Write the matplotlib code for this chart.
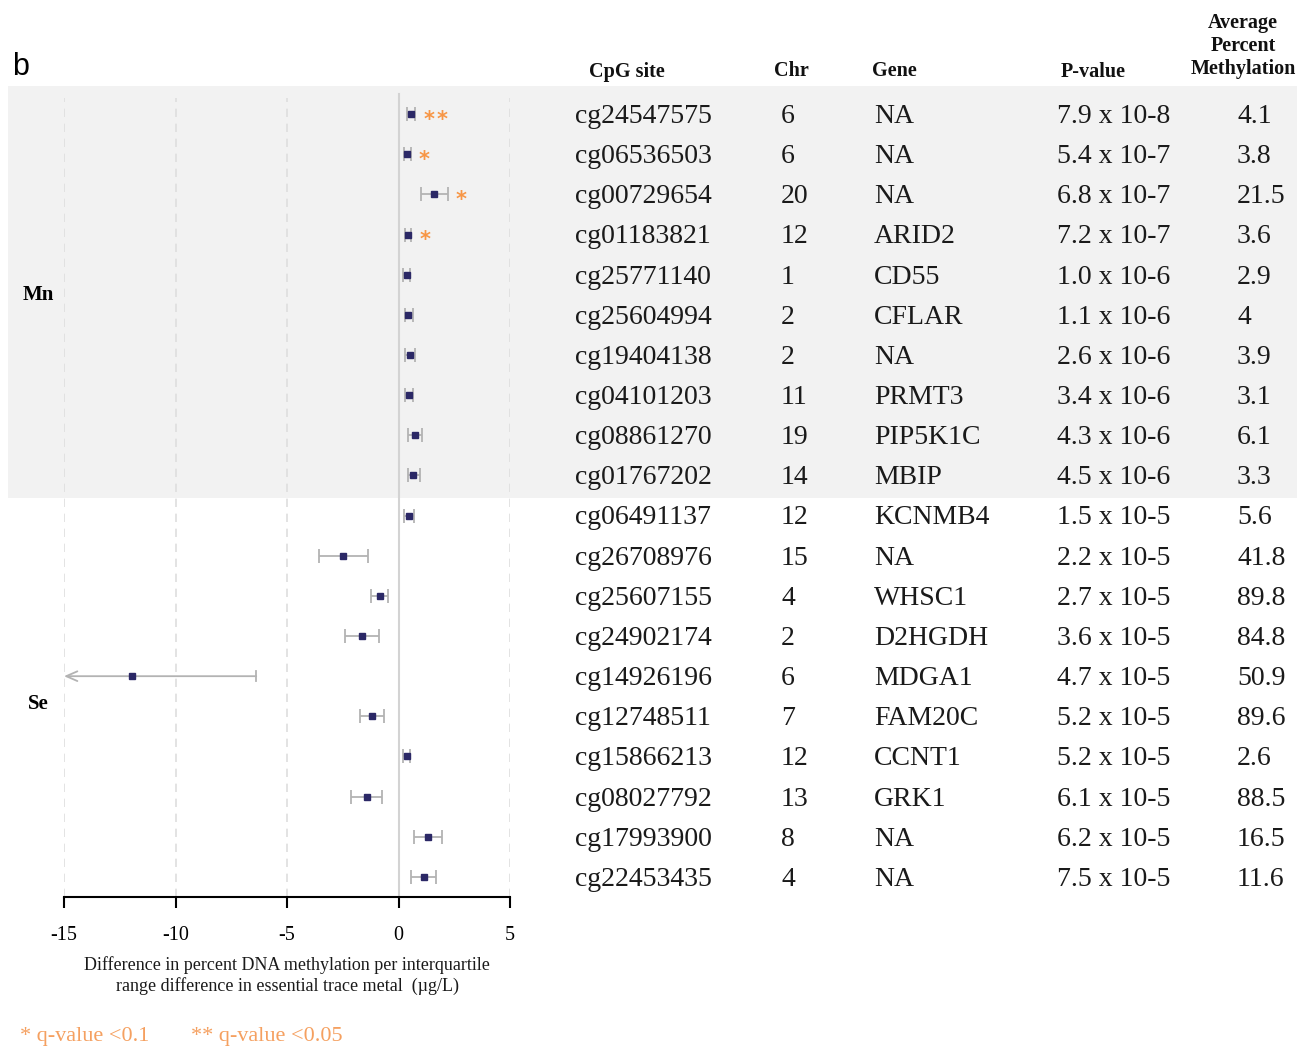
import numpy as np
import matplotlib
matplotlib.use("Agg")
import matplotlib.pyplot as plt
from matplotlib.transforms import blended_transform_factory
from matplotlib.patches import Rectangle

# ---- data ----
cpg = ["cg24547575", "cg06536503", "cg00729654", "cg01183821", "cg25771140",
       "cg25604994", "cg19404138", "cg04101203", "cg08861270", "cg01767202",
       "cg06491137", "cg26708976", "cg25607155", "cg24902174", "cg14926196",
       "cg12748511", "cg15866213", "cg08027792", "cg17993900", "cg22453435"]
chrom = ["6", "6", "20", "12", "1", "2", "2", "11", "19", "14",
         "12", "15", "4", "2", "6", "7", "12", "13", "8", "4"]
gene = ["NA", "NA", "NA", "ARID2", "CD55", "CFLAR", "NA", "PRMT3", "PIP5K1C", "MBIP",
        "KCNMB4", "NA", "WHSC1", "D2HGDH", "MDGA1", "FAM20C", "CCNT1", "GRK1", "NA", "NA"]
pval = ["7.9 x 10-8", "5.4 x 10-7", "6.8 x 10-7", "7.2 x 10-7", "1.0 x 10-6",
        "1.1 x 10-6", "2.6 x 10-6", "3.4 x 10-6", "4.3 x 10-6", "4.5 x 10-6",
        "1.5 x 10-5", "2.2 x 10-5", "2.7 x 10-5", "3.6 x 10-5", "4.7 x 10-5",
        "5.2 x 10-5", "5.2 x 10-5", "6.1 x 10-5", "6.2 x 10-5", "7.5 x 10-5"]
avg_meth = ["4.1", "3.8", "21.5", "3.6", "2.9", "4", "3.9", "3.1", "6.1", "3.3",
            "5.6", "41.8", "89.8", "84.8", "50.9", "89.6", "2.6", "88.5", "16.5", "11.6"]
metal = ["Mn"] * 10 + ["Se"] * 10

est = np.array([0.58, 0.39, 1.59, 0.42, 0.36, 0.43, 0.51, 0.45, 0.73, 0.67,
                0.46, -2.48, -0.85, -1.63, -11.94, -1.20, 0.36, -1.43, 1.31, 1.14])
ci_lo = np.array([0.39, 0.24, 0.99, 0.27, 0.22, 0.28, 0.31, 0.28, 0.43, 0.42,
                  0.25, -3.57, -1.24, -2.38, -17.5, -1.73, 0.21, -2.11, 0.69, 0.58])
ci_hi = np.array([0.76, 0.54, 2.20, 0.57, 0.51, 0.64, 0.73, 0.64, 1.06, 0.96,
                  0.69, -1.36, -0.46, -0.88, -6.38, -0.63, 0.51, -0.75, 1.96, 1.69])
stars = ["**", "*", "*", "*", "", "", "", "", "", "",
         "", "", "", "", "", "", "", "", "", ""]

xticks = [-15, -10, -5, 0, 5]

# ---- figure ----
W, H = 1299, 1046
fig = plt.figure(figsize=(W / 100, H / 100), dpi=100)
serif = "Liberation Serif"
navy = "#2b2866"
orange = "#f79646"
grey = "#b3b3b3"

ax = fig.add_axes([64 / W, (H - 897) / H, (510 - 64) / W, (897 - 86) / H])
ax.patch.set_visible(False)
xmin, xmax = -15, 5
ax.set_xlim(xmin, xmax)
ax.set_ylim(19.5, -0.7)
y = np.arange(len(cpg))

trans = blended_transform_factory(fig.transFigure, ax.transData)

# grey band behind Mn rows
ax.add_patch(Rectangle((8 / W, -0.7), (1297 - 8) / W, 10.25, transform=trans,
                       facecolor="#f2f2f2", edgecolor="none", zorder=0, clip_on=False))

for xv in xticks:
    if xv == 0:
        ax.axvline(0, ymax=0.99, color="#d3d3d3", lw=1.5, zorder=1)
    else:
        ax.axvline(xv, ymax=0.985, color="#dedede", lw=1.2, ls=(0, (5, 4)), zorder=1)

# error bars (clip at axis minimum with an arrow)
inside = ci_lo >= xmin
ax.errorbar(est[inside], y[inside],
            xerr=[est[inside] - ci_lo[inside], ci_hi[inside] - est[inside]],
            fmt="none", ecolor=grey, elinewidth=1.3, capsize=5, capthick=1.3, zorder=2)
for i in np.where(~inside)[0]:
    ax.annotate("", xy=(xmin, y[i]), xytext=(ci_hi[i], y[i]),
                arrowprops=dict(arrowstyle="->,head_length=0.8,head_width=0.35",
                                color=grey, lw=1.3, shrinkA=0, shrinkB=0), zorder=2)
    ax.plot([ci_hi[i], ci_hi[i]], [y[i] - 0.13, y[i] + 0.13], color=grey, lw=1.3, zorder=2)
ax.plot(est, y, "s", color=navy, markersize=5, zorder=3)

# significance stars, one glyph at a time so they get a little gap
for i, s in enumerate(stars):
    for k, ch in enumerate(s):
        ax.annotate(ch, xy=(ci_hi[i], y[i]), xytext=(6 + 9 * k, -4),
                    textcoords="offset points", color=orange, fontsize=15,
                    fontfamily="DejaVu Sans", fontweight="bold", va="center", ha="left")

for side in ["left", "right", "top"]:
    ax.spines[side].set_visible(False)
ax.spines["bottom"].set_linewidth(1.5)
ax.set_yticks([])
ax.set_xticks(xticks)
ax.set_xticklabels([str(t) for t in xticks], fontfamily=serif, fontsize=14.5)
ax.tick_params(axis="x", direction="out", length=8, width=1.5, pad=13)

fig.text(287 / W, 1 - 965 / H, "Difference in percent DNA methylation per interquartile",
         ha="center", va="center", fontfamily=serif, fontsize=13, color="#1a1a1a")
fig.text(287 / W, 1 - 986 / H, "range difference in essential trace metal  (\u00b5g/L)",
         ha="center", va="center", fontfamily=serif, fontsize=13, color="#1a1a1a")

# metal group labels
ax.text(38 / W, 4.5, "Mn", transform=trans, ha="center", va="center",
        fontfamily=serif, fontsize=15, fontweight="bold")
ax.text(38 / W, 14.7, "Se", transform=trans, ha="center", va="center",
        fontfamily=serif, fontsize=15, fontweight="bold")

# table
cols = [(575, cpg), (781, chrom), (874, gene), (1057, pval), (1237, avg_meth)]
for xpix, vals in cols:
    for i, v in enumerate(vals):
        ax.text(xpix / W, y[i] + 0.06, v, transform=trans, ha="left", va="center",
                fontfamily=serif, fontsize=20, color="#1a1a1a")

hdr = dict(ha="center", va="center", fontfamily=serif, fontsize=14.5,
           fontweight="bold", color="#111111")
fig.text(627 / W, 1 - 72 / H, "CpG site", **hdr)
fig.text(791 / W, 1 - 71 / H, "Chr", **hdr)
fig.text(894 / W, 1 - 71 / H, "Gene", **hdr)
fig.text(1093 / W, 1 - 72 / H, "P-value", **hdr)
fig.text(1243 / W, 1 - 46 / H, "Average\nPercent\nMethylation", linespacing=1.22, **hdr)

fig.text(12 / W, 1 - 67 / H, "b", ha="left", va="center", fontsize=22,
         fontfamily="Liberation Sans")

# legend
fig.text(20 / W, 1 - 1037 / H, "* q-value <0.1", ha="left", va="center",
         fontfamily=serif, fontsize=16, color="#f5a060")
fig.text(191 / W, 1 - 1037 / H, "** q-value <0.05", ha="left", va="center",
         fontfamily=serif, fontsize=16, color="#f5a060")

fig.savefig("out.png", dpi=100)
